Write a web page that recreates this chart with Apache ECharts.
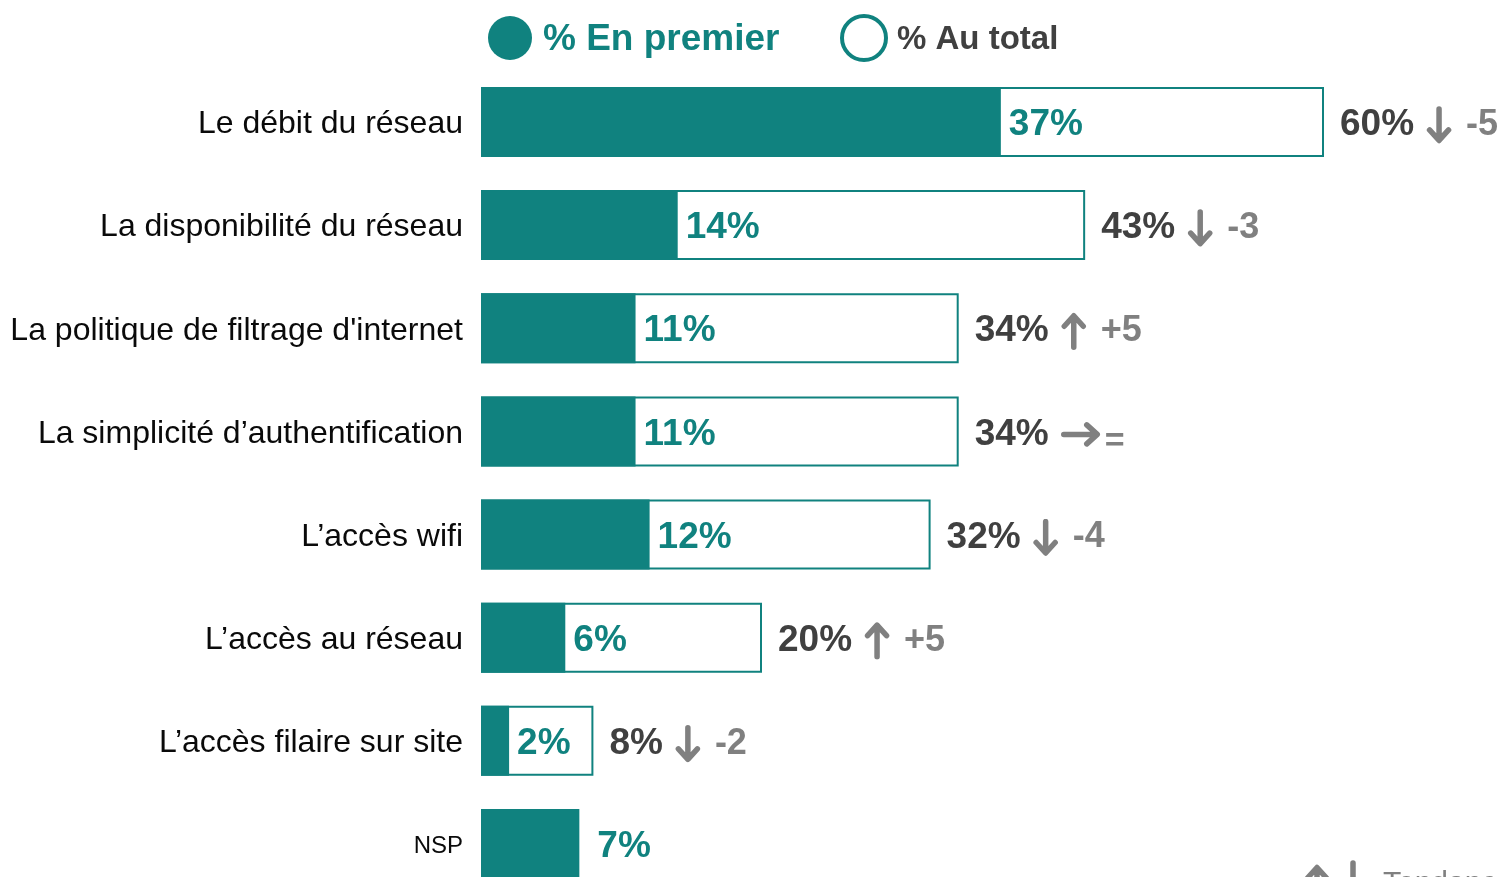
<!DOCTYPE html>
<html>
<head>
    <meta charset="utf-8">
    <title>Critères réseau</title>
    <script src="https://cdn.jsdelivr.net/npm/echarts@6/dist/echarts.min.js"></script>
    <style>
        html, body { margin: 0; padding: 0; background: #fff; }
        #main { width: 1501px; height: 877px; }
    </style>
</head>
<body>
<div id="main"></div>
<script type="text/javascript">
// données
var categories = ['Le débit du réseau', 'La disponibilité du réseau', "La politique de filtrage d'internet",
    'La simplicité d\u2019authentification', 'L\u2019accès wifi', 'L\u2019accès au réseau',
    'L\u2019accès filaire sur site', 'NSP'];
var enPremier = [37, 14, 11, 11, 12, 6, 2, 7];
var auTotal = [60, 43, 34, 34, 32, 20, 8, null];
var evolution = ['-5', '-3', '+5', '=', '-4', '+5', '-2', null];

var TEAL = '#10827f';
var DARK = '#404040';
var GREY = '#808080';

// flèches épaisses dessinées en svg (les glyphes unicode sont trop fins)
function svg(w, h, d) {
    return 'data:image/svg+xml;charset=utf-8,' + encodeURIComponent(
        '<svg xmlns="http://www.w3.org/2000/svg" width="' + w + '" height="' + h + '" viewBox="0 0 ' + w + ' ' + h + '">' +
        '<path d="' + d + '" fill="none" stroke="' + GREY + '" stroke-width="5.5" stroke-linecap="round" stroke-linejoin="round"/></svg>');
}
var IMG_DOWN = svg(26, 38, 'M13 3 L13 34 M3.5 24 L13 34.5 L22.5 24');
var IMG_UP = svg(26, 38, 'M13 35 L13 4 M3.5 14 L13 3.5 L22.5 14');
var IMG_RIGHT = svg(40, 26, 'M3 13 L36 13 M26 3.5 L36.5 13 L26 22.5');

function arrowFor(d) {
    if (d === '=') return 'r';
    return d.charAt(0) === '+' ? 'u' : 'dn';
}

// NSP n'a pas de barre "au total" : son étiquette est un peu plus écartée
var premierData = enPremier.map(function (v, i) {
    return auTotal[i] == null ? { value: v, label: { distance: 18 } } : v;
});

var chart = echarts.init(document.getElementById('main'));

var option = {
    animation: false,
    grid: { left: 481, right: 36.5, top: 70.4, height: 825.1, containLabel: false, outerBoundsMode: 'none' },
    xAxis: { type: 'value', min: 0, max: 70, show: false },
    yAxis: {
        type: 'category',
        data: categories,
        inverse: true,
        axisLine: { show: false },
        axisTick: { show: false },
        splitLine: { show: false },
        axisLabel: {
            margin: 18,
            color: '#0a0a0a',
            fontFamily: 'Liberation Sans, Arial',
            fontSize: 32,
            padding: [5, 0, 0, 0],
            formatter: function (v) { return v === 'NSP' ? '{s|' + v + '}' : v; },
            rich: { s: { fontSize: 24, color: '#0a0a0a', fontFamily: 'Liberation Sans, Arial' } }
        }
    },
    series: [
        {
            name: '% Au total',
            type: 'bar',
            barWidth: 70,
            barGap: '-100%',
            data: auTotal,
            itemStyle: { color: '#fff', borderColor: TEAL, borderWidth: 2 },
            label: {
                show: true,
                position: 'right',
                distance: 16,
                offset: [0, 3],
                formatter: function (p) {
                    var d = evolution[p.dataIndex];
                    if (p.value == null) return '';
                    var dd = d === '=' ? '{eq|=}' : '{d|' + d + '}';
                    return '{v|' + p.value + '%}{' + arrowFor(d) + '|}' + dd;
                },
                rich: {
                    v: { color: DARK, fontSize: 37, fontWeight: 'bold', fontFamily: 'Liberation Sans, Arial', padding: [0, 12, 0, 0] },
                    dn: { width: 26, height: 38, backgroundColor: { image: IMG_DOWN } },
                    u: { width: 26, height: 38, backgroundColor: { image: IMG_UP } },
                    r: { width: 40, height: 26, backgroundColor: { image: IMG_RIGHT } },
                    d: { color: GREY, fontSize: 36, fontWeight: 'bold', fontFamily: 'Liberation Sans, Arial', padding: [0, 0, 0, 14] },
                    eq: { color: GREY, fontSize: 34, fontWeight: 'bold', fontFamily: 'Liberation Sans, Arial', padding: [14, 0, 0, 4] }
                }
            }
        },
        {
            name: '% En premier',
            type: 'bar',
            barWidth: 70,
            data: premierData,
            itemStyle: { color: TEAL },
            label: {
                show: true,
                position: 'right',
                distance: 8,
                offset: [0, 3],
                formatter: '{c}%',
                color: TEAL,
                fontSize: 37,
                fontWeight: 'bold',
                fontFamily: 'Liberation Sans, Arial'
            }
        }
    ],
    graphic: [
        { type: 'circle', shape: { cx: 510, cy: 38, r: 22 }, style: { fill: TEAL } },
        { type: 'text', left: 543, top: 21, style: { text: '% En premier', fill: TEAL, fontSize: 37, fontWeight: 'bold', fontFamily: 'Liberation Sans, Arial' } },
        { type: 'circle', shape: { cx: 864, cy: 38, r: 22 }, style: { fill: '#fff', stroke: TEAL, lineWidth: 4 } },
        { type: 'text', left: 897, top: 23, style: { text: '% Au total', fill: DARK, fontSize: 33, fontWeight: 'bold', fontFamily: 'Liberation Sans, Arial' } },
        { type: 'image', left: 1304, top: 864, style: { image: IMG_UP, width: 26, height: 38 } },
        { type: 'image', left: 1340, top: 860, style: { image: IMG_DOWN, width: 26, height: 38 } },
        { type: 'text', left: 1383, top: 869, style: { text: 'Tendance', fill: GREY, fontSize: 30, fontFamily: 'Liberation Sans, Arial' } }
    ]
};

chart.setOption(option);
</script>
</body>
</html>
